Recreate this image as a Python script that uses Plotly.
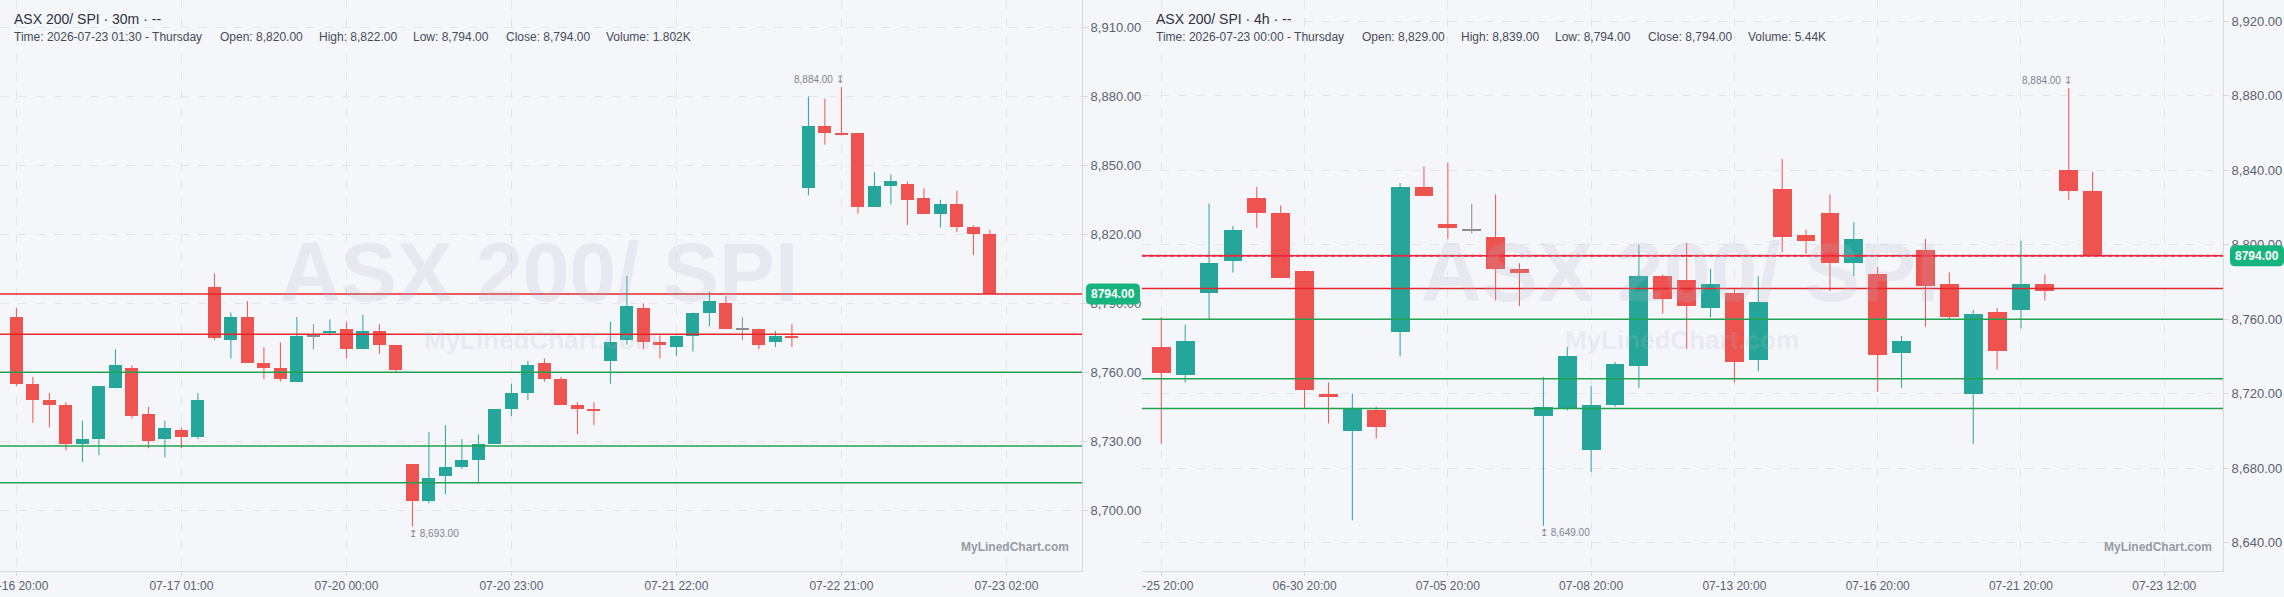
import plotly.graph_objects as go

# ---------------- data ----------------
# 30m chart (left)
m30_open = [8784, 8755, 8748, 8746, 8729, 8731, 8753, 8762, 8742, 8731,
            8735, 8732, 8797, 8774, 8784, 8764, 8762, 8756, 8776, 8777,
            8779, 8770, 8778, 8772, 8720, 8704, 8715, 8719, 8722, 8729,
            8744, 8751, 8764, 8757, 8746, 8744, 8765, 8774, 8788, 8773,
            8771, 8776, 8786, 8790, 8779, 8779, 8773, 8776, 8840, 8867,
            8864, 8864, 8832, 8841, 8842, 8836, 8829, 8833, 8823, 8820]
m30_high = [8788, 8758, 8751, 8747, 8739, 8754, 8770, 8763, 8745, 8739,
            8736, 8751, 8803, 8786, 8791, 8771, 8773, 8784, 8781, 8783,
            8782, 8785, 8781, 8772, 8720, 8734, 8737, 8731, 8733, 8744,
            8755, 8765, 8766, 8758, 8747, 8747, 8782, 8802, 8790, 8776,
            8776, 8786, 8795, 8793, 8784, 8779, 8778, 8781, 8880, 8879,
            8884, 8864, 8847, 8846, 8843, 8840, 8835, 8839, 8824, 8822]
m30_low = [8754, 8738, 8736, 8726, 8721, 8724, 8753, 8740, 8727, 8723,
           8727, 8731, 8774, 8766, 8764, 8757, 8756, 8756, 8770, 8776,
           8766, 8770, 8768, 8760, 8693, 8703, 8707, 8718, 8712, 8729,
           8741, 8748, 8756, 8746, 8733, 8737, 8755, 8772, 8770, 8766,
           8767, 8769, 8780, 8779, 8774, 8770, 8771, 8771, 8837, 8859,
           8863, 8829, 8832, 8833, 8824, 8829, 8823, 8821, 8811, 8794]
m30_close = [8755, 8748, 8746, 8729, 8731, 8754, 8763, 8741, 8730, 8736,
             8732, 8748, 8775, 8784, 8764, 8762, 8757, 8776, 8776, 8778,
             8770, 8778, 8772, 8761, 8704, 8714, 8719, 8722, 8729, 8744,
             8751, 8763, 8757, 8746, 8744, 8743, 8773, 8789, 8773, 8772,
             8776, 8786, 8791, 8779, 8779, 8772, 8776, 8775, 8867, 8864,
             8863, 8832, 8841, 8843, 8835, 8829, 8833, 8823, 8820, 8794]
m30_tick_idx = [0, 10, 20, 30, 40, 50, 60]
m30_tick_text = ["07-16 20:00", "07-17 01:00", "07-20 00:00", "07-20 23:00",
                 "07-21 22:00", "07-22 21:00", "07-23 02:00"]
m30_levels_red = [8794, 8776.5]
m30_levels_green = [8760, 8728, 8712]
m30_yticks = [8700, 8730, 8760, 8790, 8820, 8850, 8880, 8910]
m30_hi = (50, 8884)
m30_lo = (24, 8693)

# 4h chart (right)
h4_open = [8745, 8730, 8774, 8791, 8825, 8817, 8786, 8720, 8700, 8711,
           8753, 8831, 8811, 8808, 8804, 8787, 8708, 8712, 8690, 8714,
           8735, 8783, 8781, 8766, 8774, 8738, 8830, 8805, 8817, 8790,
           8784, 8742, 8797, 8779, 8720, 8764, 8765, 8779, 8840, 8829]
h4_high = [8761, 8757, 8822, 8810, 8831, 8821, 8786, 8726, 8720, 8713,
           8833, 8842, 8844, 8822, 8827, 8790, 8729, 8745, 8724, 8737,
           8800, 8784, 8801, 8787, 8776, 8783, 8846, 8808, 8827, 8812,
           8788, 8751, 8803, 8785, 8765, 8766, 8802, 8784, 8884, 8839]
h4_low = [8693, 8726, 8760, 8785, 8809, 8782, 8712, 8704, 8652, 8696,
          8740, 8826, 8803, 8806, 8770, 8767, 8649, 8711, 8678, 8713,
          8723, 8763, 8744, 8761, 8726, 8732, 8796, 8795, 8775, 8783,
          8721, 8723, 8756, 8760, 8693, 8733, 8755, 8770, 8824, 8794]
h4_close = [8731, 8748, 8790, 8808, 8817, 8782, 8722, 8718, 8712, 8702,
            8831, 8826, 8809, 8808, 8787, 8785, 8713, 8740, 8714, 8736,
            8783, 8771, 8767, 8779, 8737, 8769, 8804, 8802, 8790, 8803,
            8741, 8748, 8778, 8761, 8763, 8743, 8779, 8775, 8829, 8794]
h4_tick_idx = [0, 6, 12, 18, 24, 30, 36, 42]
h4_tick_text = ["06-25 20:00", "06-30 20:00", "07-05 20:00", "07-08 20:00",
                "07-13 20:00", "07-16 20:00", "07-21 20:00", "07-23 12:00"]
h4_levels_red = [8794, 8776.5]
h4_levels_green = [8760, 8728, 8712]
h4_yticks = [8640, 8680, 8720, 8760, 8800, 8840, 8880, 8920]
h4_hi = (38, 8884)
h4_lo = (16, 8649)

last_price = 8794

# ---------------- style ----------------
W, H = 2284, 597
BG = "#f5f6fa"
UP = "#26a69a"
DOWN = "#ef5350"
DOJI = "#8c8c8c"
LRED = "#e3262b"
LGREEN = "#22a24e"
GRID = "#e3e6ec"
AXIS = "#d4d8e0"
TXT = "#5a6271"
FONT = "Liberation Sans, Arial, sans-serif"
WM = "rgba(175,182,200,0.20)"

fig = go.Figure()


def add_candles(o, h, l, c, xa, ya, min_body):
    groups = {UP: ([], []), DOWN: ([], []), DOJI: ([], [])}
    bx, bbase, bh, bcol = [], [], [], []
    for i in range(len(o)):
        col = UP if c[i] > o[i] else (DOWN if c[i] < o[i] else DOJI)
        gx, gy = groups[col]
        gx += [i, i, None]
        gy += [l[i], h[i], None]
        lo_b = min(o[i], c[i])
        hgt = abs(c[i] - o[i])
        if hgt < min_body:
            lo_b = (o[i] + c[i]) / 2 - min_body / 2
            hgt = min_body
        bx.append(i)
        bbase.append(lo_b)
        bh.append(hgt)
        bcol.append(col)
    for col, (gx, gy) in groups.items():
        if gx:
            fig.add_trace(go.Scatter(x=gx, y=gy, mode="lines",
                                     line=dict(color=col, width=1),
                                     xaxis=xa, yaxis=ya, hoverinfo="skip",
                                     showlegend=False))
    fig.add_trace(go.Bar(x=bx, y=bh, base=bbase, width=0.79,
                         marker=dict(color=bcol, line=dict(width=0)),
                         xaxis=xa, yaxis=ya, hoverinfo="skip",
                         showlegend=False))


add_candles(m30_open, m30_high, m30_low, m30_close, "x", "y", 0.5)
add_candles(h4_open, h4_high, h4_low, h4_close, "x2", "y2", 0.55)

ydom = [(H - 571) / H, 1.0]
common_x = dict(showgrid=True, gridcolor=GRID, griddash="dash", gridwidth=1,
                showline=True, linecolor=AXIS, linewidth=1, ticks="outside",
                ticklen=4, tickcolor=AXIS, zeroline=False, automargin=False,
                ticklabeloverflow="allow",
                tickfont=dict(family=FONT, size=12, color=TXT))
common_y = dict(showgrid=True, gridcolor=GRID, griddash="dash", gridwidth=1,
                showline=True, linecolor=AXIS, linewidth=1, ticks="outside",
                ticklen=5, tickcolor=AXIS, zeroline=False, side="right",
                tickformat=",.2f", domain=ydom, automargin=False,
                ticklabeloverflow="allow",
                tickfont=dict(family=FONT, size=13, color=TXT))

fig.update_layout(
    width=W, height=H, autosize=False,
    margin=dict(l=0, r=0, t=0, b=0, pad=0, autoexpand=False),
    paper_bgcolor=BG, plot_bgcolor=BG,
    barmode="overlay", bargap=0,
    xaxis=dict(domain=[0, 1082 / W], range=[-0.994, 64.58], anchor="y",
               tickvals=m30_tick_idx, ticktext=m30_tick_text, **common_x),
    yaxis=dict(anchor="x", range=[8673.6, 8921.9], tickvals=m30_yticks,
               **common_y),
    xaxis2=dict(domain=[1142 / W, 2223 / W], range=[-0.808, 44.46],
                anchor="y2", tickvals=h4_tick_idx, ticktext=h4_tick_text,
                **common_x),
    yaxis2=dict(anchor="x2", range=[8624.8, 8931.3], tickvals=h4_yticks,
                **common_y),
)

shapes = []
for xr, yr, reds, greens in (("x", "y", m30_levels_red, m30_levels_green),
                             ("x2", "y2", h4_levels_red, h4_levels_green)):
    for lv in reds:
        shapes.append(dict(type="line", xref=xr + " domain", yref=yr,
                           x0=0, x1=1, y0=lv, y1=lv, layer="above",
                           line=dict(color=LRED, width=1.5)))
    for lv in greens:
        shapes.append(dict(type="line", xref=xr + " domain", yref=yr,
                           x0=0, x1=1, y0=lv, y1=lv, layer="above",
                           line=dict(color=LGREEN, width=1.5)))
# dashed current-price line on the 4h chart
shapes.append(dict(type="line", xref="x2 domain", yref="y2", x0=0, x1=1,
                   y0=last_price, y1=last_price, layer="above",
                   line=dict(color="#f0284a", width=2, dash="4px,3px")))

# mask clipping the first tick label of the right chart
shapes.append(dict(type="rect", xref="paper", yref="paper",
                   x0=1083 / W, x1=1142 / W, y0=0, y1=(H - 573) / H,
                   fillcolor=BG, line=dict(width=0), layer="above"))


def badge_path(w, h, r):
    a, b = w / 2, h / 2
    return (f"M {-a + r},{-b} L {a - r},{-b} Q {a},{-b} {a},{-b + r} "
            f"L {a},{b - r} Q {a},{b} {a - r},{b} L {-a + r},{b} "
            f"Q {-a},{b} {-a},{b - r} L {-a},{-b + r} Q {-a},{-b} {-a + r},{-b} Z")


BADGE = "#17b47d"
for cx, yr in ((1113, "y"), (2257, "y2")):
    shapes.append(dict(type="path", xref="paper", yref=yr,
                       xsizemode="pixel", ysizemode="pixel",
                       xanchor=cx / W, yanchor=last_price,
                       path=badge_path(54, 21, 5), fillcolor=BADGE,
                       line=dict(width=0), layer="above"))
fig.update_layout(shapes=shapes)

ann = []


def px_note(text, x, y, size, color, anchor="left", bold=False):
    ann.append(dict(text=text, xref="paper", yref="paper", x=x / W,
                    y=1 - y / H, xanchor=anchor, yanchor="middle",
                    showarrow=False,
                    font=dict(family=FONT, size=size, color=color,
                              weight=700 if bold else 400)))


# headers
px_note("ASX 200/ SPI · 30m · --", 12, 19, 14, "#2c323d")
for txt, x in (("Time: 2026-07-23 01:30 - Thursday", 12),
               ("Open: 8,820.00", 218), ("High: 8,822.00", 317),
               ("Low: 8,794.00", 411), ("Close: 8,794.00", 504),
               ("Volume: 1.802K", 604)):
    px_note(txt, x, 37, 12, "#454c58")
px_note("ASX 200/ SPI · 4h · --", 1154, 19, 14, "#2c323d")
for txt, x in (("Time: 2026-07-23 00:00 - Thursday", 1154),
               ("Open: 8,829.00", 1360), ("High: 8,839.00", 1459),
               ("Low: 8,794.00", 1553), ("Close: 8,794.00", 1646),
               ("Volume: 5.44K", 1746)):
    px_note(txt, x, 37, 12, "#454c58")

# watermarks
for cx in (539, 1680):
    px_note("ASX 200/ SPI", cx, 272, 84, WM, anchor="center", bold=True)
    px_note("MyLinedChart.com", cx + 2, 340, 26, WM, anchor="center", bold=True)
px_note("MyLinedChart.com", 1071, 547, 12, "#959ba6", anchor="right", bold=True)
px_note("MyLinedChart.com", 2214, 547, 12, "#959ba6", anchor="right", bold=True)

# high / low markers
for (xi, val), xr, yr in ((m30_hi, "x", "y"), (h4_hi, "x2", "y2")):
    ann.append(dict(text=f"{val:,.2f} ↧", x=xi, y=val, xref=xr, yref=yr,
                    xanchor="right", yanchor="middle", xshift=5, yshift=8,
                    showarrow=False,
                    font=dict(family=FONT, size=10, color="#7d8592")))
for (xi, val), xr, yr in ((m30_lo, "x", "y"), (h4_lo, "x2", "y2")):
    ann.append(dict(text=f"↥ {val:,.2f}", x=xi, y=val, xref=xr, yref=yr,
                    xanchor="left", yanchor="middle", xshift=-5, yshift=-7,
                    showarrow=False,
                    font=dict(family=FONT, size=10, color="#7d8592")))

# price badges text
for cx, yr in ((1113, "y"), (2257, "y2")):
    ann.append(dict(text=f"{last_price:.2f}", xref="paper", yref=yr,
                    x=cx / W, y=last_price, xanchor="center",
                    yanchor="middle", showarrow=False,
                    font=dict(family=FONT, size=12, color="white",
                              weight=700)))

fig.update_layout(annotations=ann)
fig.write_html("out.html")
